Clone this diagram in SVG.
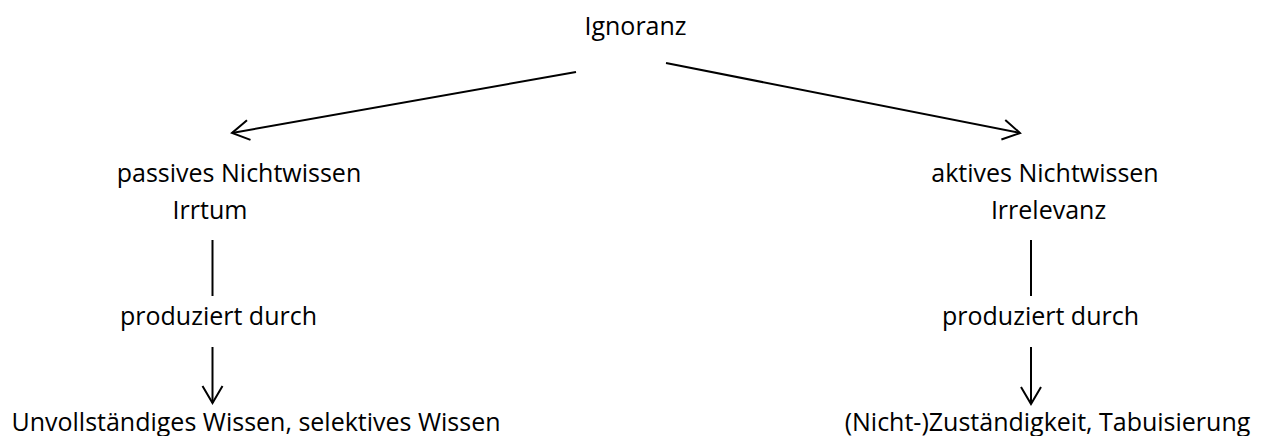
<svg xmlns="http://www.w3.org/2000/svg" width="1267" height="436" viewBox="0 0 1267 436">
  <style>
    .t { font-family: "Open Sans", "Noto Sans", "Liberation Sans", sans-serif; font-size: 25px; fill: #000; text-anchor: middle; }
    .c { stroke: #000; stroke-width: 2; fill: none; }
  </style>
  <defs>
    <marker id="open" viewBox="-20 -12 22 24" markerWidth="22" markerHeight="24" refX="0" refY="0" orient="auto" markerUnits="userSpaceOnUse">
      <path d="M-17,-10 L0,0 L-17,10" fill="none" stroke="#000" stroke-width="2"/>
    </marker>
  </defs>
  <rect width="1267" height="436" fill="#fff"/>

  <g id="connectors">
    <line class="c" x1="576" y1="72" x2="232" y2="133" marker-end="url(#open)"/>
    <line class="c" x1="666" y1="63" x2="1020" y2="133" marker-end="url(#open)"/>
    <line class="c" x1="212.5" y1="240" x2="212.5" y2="296"/>
    <line class="c" x1="212.5" y1="347" x2="212.5" y2="403" marker-end="url(#open)"/>
    <line class="c" x1="1031" y1="240" x2="1031" y2="296"/>
    <line class="c" x1="1031" y1="347" x2="1031" y2="404" marker-end="url(#open)"/>
  </g>

  <g id="ignoranz">
    <text class="t" x="635.5" y="35">Ignoranz</text>
  </g>
  <g id="passives">
    <text class="t" x="239" y="182">passives Nichtwissen</text>
    <text class="t" x="210" y="219">Irrtum</text>
  </g>
  <g id="aktives">
    <text class="t" x="1045" y="182">aktives Nichtwissen</text>
    <text class="t" x="1048.5" y="219">Irrelevanz</text>
  </g>
  <g id="produziert-links">
    <text class="t" x="218.5" y="325">produziert durch</text>
  </g>
  <g id="produziert-rechts">
    <text class="t" x="1040.5" y="325">produziert durch</text>
  </g>
  <g id="unvollstaendig">
    <text class="t" x="256" y="431">Unvollständiges Wissen, selektives Wissen</text>
  </g>
  <g id="zustaendigkeit">
    <text class="t" x="1047.5" y="431">(Nicht-)Zuständigkeit, Tabuisierung</text>
  </g>
</svg>
